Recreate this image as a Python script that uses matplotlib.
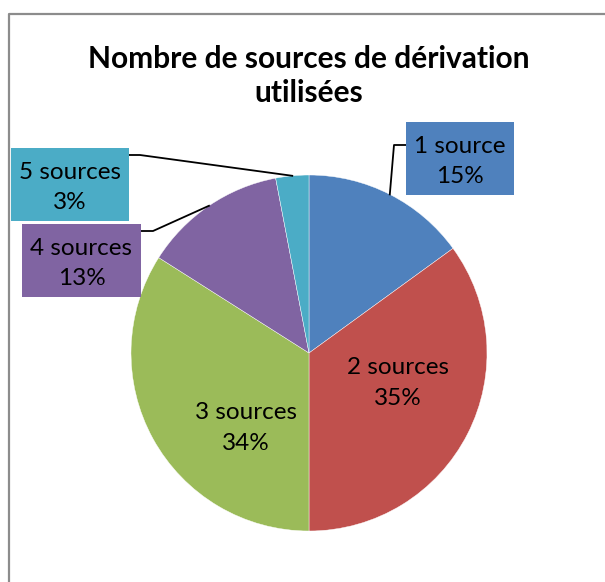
import matplotlib.pyplot as plt
from matplotlib.patches import Rectangle
import numpy as np

# données du graphique
categories = ["1 source", "2 sources", "3 sources", "4 sources", "5 sources"]
valeurs = [15, 35, 34, 13, 3]
couleurs = ["#4F81BD", "#C0504D", "#9BBB59", "#8064A2", "#4BACC6"]
titre = "Nombre de sources de dérivation\nutilisées"

W, H = 605, 582
plt.rcParams["font.family"] = ["Lato", "DejaVu Sans"]

fig = plt.figure(figsize=(W / 100, H / 100), dpi=100)
ax = fig.add_axes([0, 0, 1, 1])

cx, cy, r = 309, H - 353, 178
wedges, _ = ax.pie(valeurs, colors=couleurs, startangle=90, counterclock=False,
                   center=(cx, cy), radius=r, frame=True,
                   wedgeprops=dict(edgecolor="white", linewidth=0.3))
ax.set_xlim(0, W)
ax.set_ylim(0, H)
ax.axis("off")

# cadre gris (haut et gauche)
ax.plot([9, 9, W], [0, H - 14, H - 14], color="#8c8c8c", lw=1.6)

ax.text(cx, H - 76, titre, ha="center", va="center", fontsize=21.5,
        fontweight="bold", linespacing=1.3)

total = sum(valeurs)
# boîtes des étiquettes en px (gauche, haut, droite, bas) et coude du trait
boites = {
    0: ((406, 122, 514, 195), (394, 145)),
    3: ((22, 224, 141, 297), (153, 231)),
    4: ((11, 148, 129, 221), (140, 155)),
}
centres = {1: (398, 383), 2: (246, 428)}

for i in range(len(valeurs)):
    pct = round(100 * valeurs[i] / total)
    txt = f"{categories[i]}\n{pct}%"
    if i in boites:
        (x0, y0, x1, y1), coude = boites[i]
        ax.add_patch(Rectangle((x0, H - y1), x1 - x0, y1 - y0,
                               fc=couleurs[i], ec="none", zorder=3))
        x, y = (x0 + x1) / 2, (y0 + y1) / 2 + 3
        w = wedges[i]
        ang = np.deg2rad((w.theta1 + w.theta2) / 2)
        px, py = cx + r * np.cos(ang), cy + r * np.sin(ang)
        bx = x0 if i == 0 else x1
        ax.plot([bx, coude[0], px], [H - coude[1], H - coude[1], py],
                color="black", lw=1.3, zorder=2)
    else:
        x, y = centres[i]
    ax.text(x, H - y, txt, ha="center", va="center", fontsize=17.5,
            linespacing=1.55, zorder=4)

fig.savefig("out.png", dpi=100)
